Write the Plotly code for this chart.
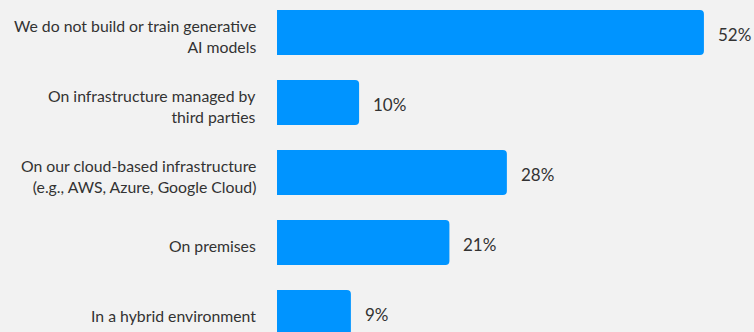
import plotly.graph_objects as go

categories = [
    "We do not build or train generative<br>AI models",
    "On infrastructure managed by<br>third parties",
    "On our cloud-based infrastructure<br>(e.g., AWS, Azure, Google Cloud)",
    "On premises",
    "In a hybrid environment",
]
values = [52, 10, 28, 21, 9]
labels = [f"{v}%" for v in values]

BG = "#f2f2f2"
BAR = "#0094ff"
TXT = "#333333"

fig = go.Figure()
fig.add_trace(go.Bar(
    x=values, y=categories, orientation="h",
    marker=dict(color=BAR, line=dict(width=0)),
    width=0.643, hoverinfo="skip",
))
for v, c, t in zip(values, categories, labels):
    fig.add_annotation(x=v, y=c, text=t, showarrow=False, xanchor="left",
                       xshift=12, yshift=-2,
                       font=dict(family="Lato", size=17, color=TXT))
    fig.add_annotation(x=0, y=c, text=c, showarrow=False, xanchor="right",
                       align="right", xshift=-19, yshift=-3.5,
                       font=dict(family="Lato", size=15.8, color=TXT))

fig.update_layout(
    width=754, height=332,
    margin=dict(l=277, r=0, t=0, b=0),
    paper_bgcolor=BG, plot_bgcolor=BG,
    barcornerradius=4,
    showlegend=False,
    xaxis=dict(range=[0, 58.1], visible=False, fixedrange=True),
    yaxis=dict(range=[4.279, -0.464], showgrid=False, zeroline=False,
               showline=False, ticks="", showticklabels=False),
    font=dict(family="Lato", color=TXT),
)
fig.write_html("out.html")
